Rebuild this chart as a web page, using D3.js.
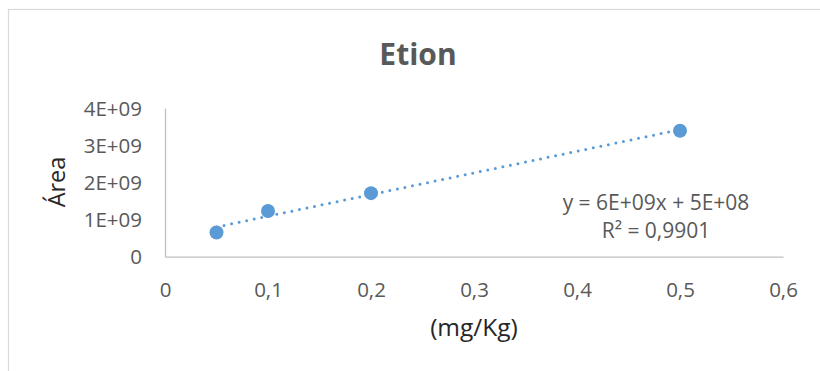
<!DOCTYPE html>
<html>
<head>
<meta charset="utf-8">
<script src="https://cdn.jsdelivr.net/npm/d3@7"></script>
<style>
html,body{margin:0;padding:0;background:#fff;}
svg{display:block;}
text{font-family:"Open Sans",sans-serif;}
</style>
</head>
<body>
<svg id="chart" width="820" height="371"></svg>
<script>
const title = "Etion";
const xLabel = "(mg/Kg)";
const yLabel = "Área";
const xValues = [0.05, 0.1, 0.2, 0.5];
const yValues = [0.65e9, 1.23e9, 1.71e9, 3.39e9];
const xTicks = [0, 0.1, 0.2, 0.3, 0.4, 0.5, 0.6];
const yTicks = [0, 1e9, 2e9, 3e9, 4e9];
const yTickLabels = ["0", "1E+09", "2E+09", "3E+09", "4E+09"];
const equationLines = ["y = 6E+09x + 5E+08", "R² = 0,9901"];

const svg = d3.select("#chart");
const W = 820, H = 371;

// chart border
svg.append("rect").attr("x", 8.5).attr("y", 9.5).attr("width", W).attr("height", H)
  .attr("fill", "#fff").attr("stroke", "#d9d9d9").attr("stroke-width", 1.2);

const x = d3.scaleLinear().domain([0, 0.6]).range([165, 783]);
const y = d3.scaleLinear().domain([0, 4e9]).range([256.7, 108]);

// axes
const xAxis = d3.axisBottom(x).tickValues(xTicks).tickSize(0)
  .tickFormat(d => d3.format("")(d).replace(".", ","));
const gx = svg.append("g").attr("transform", `translate(0,${y(0)})`).call(xAxis);
gx.select(".domain").attr("stroke", "#bfbfbf").attr("stroke-width", 1.3);
gx.selectAll("text").attr("fill", "#595959").attr("font-size", 20.5).attr("dy", 0)
  .attr("y", 40);

const yAxis = d3.axisLeft(y).tickValues(yTicks).tickSize(0)
  .tickFormat((d, i) => yTickLabels[i]);
const gy = svg.append("g").attr("transform", `translate(${x(0)},0)`).call(yAxis);
gy.select(".domain").attr("stroke", "#bfbfbf").attr("stroke-width", 1.3);
gy.selectAll("text").attr("fill", "#595959").attr("font-size", 20.5)
  .attr("x", -23).attr("dy", "0.35em");

// title
svg.append("text").attr("x", 418).attr("y", 65).attr("text-anchor", "middle")
  .attr("font-size", 30).attr("font-weight", "bold").attr("fill", "#595959").text(title);

// axis titles
svg.append("text").attr("x", 474).attr("y", 336).attr("text-anchor", "middle")
  .attr("font-size", 24.5).attr("fill", "#262626").text(xLabel);
svg.append("text").attr("transform", "translate(65,182) rotate(-90)")
  .attr("text-anchor", "middle").attr("font-size", 23.5).attr("fill", "#262626").text(yLabel);

// linear regression for trendline
const mx = d3.mean(xValues), my = d3.mean(yValues);
const sxy = d3.sum(xValues, (v, i) => (v - mx) * (yValues[i] - my));
const sxx = d3.sum(xValues, v => (v - mx) ** 2);
const slope = sxy / sxx, intercept = my - slope * mx;
const xExt = d3.extent(xValues);
const line = d3.line().x(d => x(d)).y(d => y(slope * d + intercept));
svg.append("path").datum(xExt).attr("d", line)
  .attr("fill", "none").attr("stroke", "#5b9bd5").attr("stroke-width", 3)
  .attr("stroke-linecap", "round").attr("stroke-dasharray", "0 7.7");

// points
svg.append("g").selectAll("circle").data(xValues).join("circle")
  .attr("cx", d => x(d)).attr("cy", (d, i) => y(yValues[i])).attr("r", 7)
  .attr("fill", "#5b9bd5");

// equation
svg.append("g").selectAll("text").data(equationLines).join("text")
  .attr("x", 656).attr("y", (d, i) => 210 + i * 28).attr("text-anchor", "middle")
  .attr("font-size", 21).attr("fill", "#595959").text(d => d);
</script>
</body>
</html>
